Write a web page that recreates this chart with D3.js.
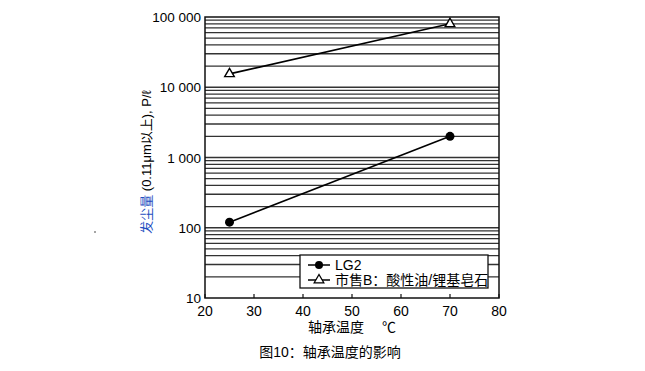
<!DOCTYPE html>
<html>
<head>
<meta charset="utf-8">
<script src="https://cdn.jsdelivr.net/npm/d3@7"></script>
<style>
  body { margin: 0; background: #fff; }
  text { font-family: "Liberation Sans", Arial, "Noto Sans CJK SC", sans-serif; }
</style>
</head>
<body>
<svg id="chart" width="645" height="371"></svg>
<script>
// data
var temps = [25, 70];
var lg2 = [120, 2000];
var commercialB = [15500, 80000];
var xTicks = [20, 30, 40, 50, 60, 70, 80];
var yTicks = [10, 100, 1000, 10000, 100000];
var yTickLabels = ["10", "100", "1 000", "10 000", "100 000"];
var seriesNames = ["LG2", "市售B：酸性油/锂基皂石"];

(function () {
  var svg = d3.select("#chart");
  var pLeft = 205, pRight = 499, pTop = 17, pBottom = 298;

  var x = d3.scaleLinear().domain([20, 80]).range([pLeft, pRight]);
  var y = d3.scaleLog().domain([10, 100000]).range([pBottom, pTop]);

  // horizontal grid lines at every minor log step
  var grid = [];
  for (var d = 10; d < 100000; d *= 10) {
    for (var k = 1; k < 10; k++) grid.push(d * k);
  }
  svg.append("g").selectAll("line")
    .data(grid.filter(function (v) { return v > 10; }))
    .enter().append("line")
    .attr("x1", pLeft).attr("x2", pRight)
    .attr("y1", function (v) { return y(v); })
    .attr("y2", function (v) { return y(v); })
    .style("stroke", "#333")
    .style("stroke-width", 1.3);

  // frame
  svg.append("rect")
    .attr("x", pLeft).attr("y", pTop)
    .attr("width", pRight - pLeft).attr("height", pBottom - pTop)
    .style("fill", "none").style("stroke", "#111").style("stroke-width", 1.5);

  // x ticks
  svg.append("g").selectAll("line")
    .data(xTicks)
    .enter().append("line")
    .attr("x1", function (v) { return x(v); }).attr("x2", function (v) { return x(v); })
    .attr("y1", pBottom).attr("y2", pBottom - 4)
    .style("stroke", "#111").style("stroke-width", 1.2);

  svg.append("g").selectAll("text")
    .data(xTicks)
    .enter().append("text")
    .attr("x", function (v) { return x(v); })
    .attr("y", pBottom + 18)
    .attr("text-anchor", "middle")
    .style("font-size", "14px")
    .text(function (v) { return v; });

  svg.append("g").selectAll("text")
    .data(yTicks)
    .enter().append("text")
    .attr("x", pLeft - 4)
    .attr("y", function (v) { return y(v) + 5; })
    .attr("text-anchor", "end")
    .style("font-size", "13.5px")
    .text(function (v, i) { return yTickLabels[i]; });

  // lines
  var line = d3.line()
    .x(function (d) { return x(d[0]); })
    .y(function (d) { return y(d[1]); });

  var lgData = d3.zip(temps, lg2);
  var bData = d3.zip(temps, commercialB);

  [lgData, bData].forEach(function (s) {
    svg.append("path")
      .datum(s)
      .attr("d", line)
      .style("fill", "none").style("stroke", "#000").style("stroke-width", 1.6);
  });

  svg.append("g").selectAll("circle")
    .data(lgData)
    .enter().append("circle")
    .attr("cx", function (d) { return x(d[0]); })
    .attr("cy", function (d) { return y(d[1]); })
    .attr("r", 4.5)
    .style("fill", "#000");

  var tri = d3.symbol().type(d3.symbolTriangle).size(40);
  svg.append("g").selectAll("path")
    .data(bData)
    .enter().append("path")
    .attr("d", tri)
    .attr("transform", function (d) { return "translate(" + x(d[0]) + "," + y(d[1]) + ")"; })
    .style("fill", "#fff").style("stroke", "#000").style("stroke-width", 1.4);

  // legend
  var lg = svg.append("g");
  lg.append("rect")
    .attr("x", 300).attr("y", 255).attr("width", 188).attr("height", 33)
    .style("fill", "#fff").style("stroke", "#111").style("stroke-width", 1.3);
  seriesNames.forEach(function (name, i) {
    var ly = 265 + i * 15;
    lg.append("line")
      .attr("x1", 308).attr("x2", 330).attr("y1", ly).attr("y2", ly)
      .style("stroke", "#000").style("stroke-width", 1.5);
    if (i === 0) {
      lg.append("circle").attr("cx", 319).attr("cy", ly).attr("r", 4).style("fill", "#000");
    } else {
      lg.append("path").attr("d", tri)
        .attr("transform", "translate(319," + ly + ")")
        .style("fill", "#fff").style("stroke", "#000").style("stroke-width", 1.3);
    }
    lg.append("text")
      .attr("x", 335).attr("y", ly + 5)
      .style("font-size", "14px")
      .text(name);
  });

  // axis titles
  svg.append("text")
    .attr("x", 352).attr("y", 332)
    .attr("text-anchor", "middle")
    .style("font-size", "14px")
    .text("轴承温度　 ℃");

  var yt = svg.append("text")
    .attr("transform", "translate(151,162) rotate(-90)")
    .attr("text-anchor", "middle")
    .style("font-size", "13px");
  yt.append("tspan").style("fill", "#1f4fbf").text("发尘量");
  yt.append("tspan").text("  (0.11\u03bcm以上), P/\u2113");

  svg.append("text")
    .attr("x", 330).attr("y", 357)
    .attr("text-anchor", "middle")
    .style("font-size", "14px")
    .text("图10：轴承温度的影响");

  svg.append("circle").attr("cx", 95).attr("cy", 232).attr("r", 0.8).style("fill", "#333");
})();
</script>
</body>
</html>
